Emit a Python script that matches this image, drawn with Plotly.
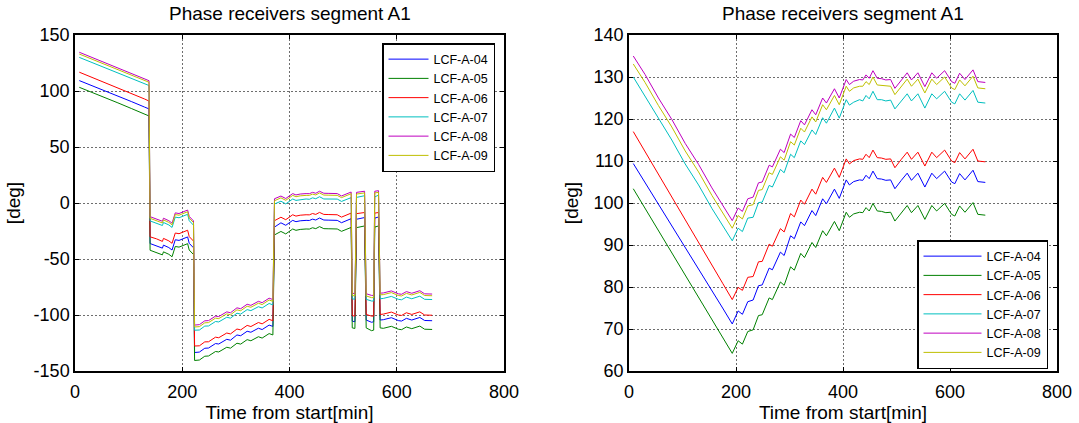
import plotly.graph_objects as go

# ---------------------------------------------------------------------------
# Receiver names and line colours (MATLAB default line order)
# ---------------------------------------------------------------------------
receivers = ["LCF-A-04", "LCF-A-05", "LCF-A-06", "LCF-A-07", "LCF-A-08", "LCF-A-09"]
colors = ["#0000FF", "#008000", "#FF0000", "#00BFBF", "#BF00BF", "#BFBF00"]

# ---------------------------------------------------------------------------
# Left panel: raw phase [deg] versus time from start [min]
# ---------------------------------------------------------------------------
time_raw = [8, 30, 55, 80, 105, 130, 138,
            140, 152, 163, 165, 175, 181, 187, 194, 200, 205, 210, 213, 218, 221,
            223, 232, 242, 249, 262, 268, 283, 290, 302, 309, 321, 328, 342, 349, 362, 369,
            372, 384, 393, 406, 412, 420, 431, 437, 443, 449, 456, 464, 472, 480, 489, 497, 509, 515,
            517, 522,
            525, 531, 540,
            543, 548, 553, 557,
            559, 566,
            569, 575, 590, 603, 609, 618, 628, 643, 652, 666]

raw_a04 = [109.3, 105.2, 100.3, 95.5, 90.6, 85.6, 84.0,
           -36.2, -38.0, -40.3, -37.6, -39.8, -42.0, -32.8, -33.4, -32.4, -31.0, -30.3, -36.0, -39.0, -40.0,
           -133.5, -133.1, -129.7, -129.5, -125.5, -125.9, -121.7, -122.5, -117.8, -118.5, -114.5, -115.4, -111.8, -113.0, -109.0, -110.2,
           -21.5, -17.7, -19.9, -15.5, -16.7, -15.9, -15.5, -15.6, -14.4, -15.2, -13.4, -15.2, -15.3, -15.6, -15.5, -17.6, -15.6, -14.0,
           -105.5, -106.0,
           -14.5, -14.0, -13.0,
           -104.5, -105.5, -106.5, -106.0,
           -13.5, -12.5,
           -104.5, -104.2, -102.4, -105.0, -105.4, -103.0, -104.5, -102.2, -104.9, -105.1]

raw_a05 = [103.3, 99.2, 94.2, 89.4, 84.4, 79.4, 77.7,
           -42.2, -44.0, -46.3, -43.6, -45.8, -48.0, -38.8, -39.4, -38.4, -37.0, -36.3, -42.0, -45.0, -46.0,
           -140.6, -140.2, -136.8, -136.6, -132.6, -133.0, -128.8, -129.6, -125.2, -126.0, -122.0, -123.0, -119.4, -120.6, -116.6, -117.8,
           -28.5, -25.4, -27.6, -23.2, -24.4, -23.6, -23.2, -23.3, -22.1, -22.9, -21.1, -22.9, -23.0, -23.3, -23.2, -25.3, -23.3, -21.8,
           -111.5, -112.0,
           -22.0, -21.5, -20.5,
           -111.5, -113.0, -114.0, -113.5,
           -21.5, -20.5,
           -111.5, -111.9, -110.1, -112.7, -113.1, -110.7, -112.2, -109.9, -112.7, -112.9]

raw_a06 = [116.8, 112.6, 107.6, 102.8, 97.9, 92.8, 91.0,
           -30.2, -32.0, -34.3, -31.6, -33.8, -36.0, -26.8, -27.4, -26.4, -25.0, -24.3, -30.0, -33.0, -34.0,
           -127.7, -127.5, -124.0, -123.9, -119.8, -120.3, -116.1, -116.9, -112.5, -113.3, -109.3, -110.3, -106.7, -107.9, -103.9, -105.1,
           -15.8, -12.7, -14.9, -10.5, -11.7, -10.9, -10.5, -10.6, -9.4, -10.2, -8.4, -10.2, -10.3, -10.6, -10.5, -12.6, -10.6, -9.0,
           -100.5, -101.0,
           -9.5, -9.0, -8.5,
           -99.5, -100.5, -101.0, -101.0,
           -9.0, -8.5,
           -99.5, -99.2, -97.4, -100.0, -100.4, -98.0, -99.5, -97.2, -100.0, -100.2]

raw_a07 = [130.0, 125.7, 120.9, 116.1, 111.2, 106.4, 104.9,
           -16.0, -17.8, -20.1, -17.4, -19.6, -21.8, -12.6, -13.2, -12.2, -10.8, -10.1, -15.8, -18.8, -19.8,
           -113.6, -113.4, -109.9, -109.8, -105.8, -106.2, -102.0, -102.8, -98.4, -99.2, -95.2, -96.1, -92.6, -93.7, -89.7, -91.0,
           -0.9, 1.6, -0.8, 3.6, 2.3, 3.0, 3.6, 3.3, 4.6, 3.8, 5.6, 3.6, 3.6, 3.3, 3.5, 1.4, 3.3, 4.8,
           -85.5, -86.0,
           5.0, 5.5, 6.5,
           -86.0, -87.0, -87.5, -87.5,
           5.5, 7.0,
           -85.5, -85.2, -83.4, -86.0, -86.4, -84.0, -85.5, -83.2, -86.0, -86.2]

raw_a08 = [134.6, 130.3, 125.5, 120.6, 115.8, 110.8, 109.2,
           -12.2, -14.0, -16.3, -13.6, -15.8, -18.0, -8.8, -9.4, -8.4, -7.0, -6.3, -12.0, -15.0, -16.0,
           -109.0, -108.6, -105.2, -105.0, -101.0, -101.4, -97.2, -98.0, -93.6, -94.4, -90.4, -91.4, -87.8, -89.0, -85.0, -86.2,
           3.8, 6.2, 4.0, 8.4, 7.2, 8.0, 8.4, 8.3, 9.5, 8.7, 10.5, 8.7, 8.6, 8.3, 8.4, 6.3, 8.3, 9.8,
           -80.5, -81.0,
           9.5, 10.0, 10.5,
           -81.0, -82.0, -82.5, -82.5,
           10.5, 11.0,
           -80.5, -80.3, -78.5, -81.1, -81.5, -79.1, -80.6, -78.3, -81.1, -81.3]

raw_a09 = [133.0, 128.8, 124.0, 119.1, 114.3, 109.3, 107.8,
           -13.7, -15.5, -17.8, -15.1, -17.3, -19.5, -10.3, -10.9, -9.9, -8.5, -7.8, -13.5, -16.5, -17.5,
           -110.7, -110.4, -107.0, -106.8, -102.8, -103.2, -99.0, -99.8, -95.4, -96.2, -92.2, -93.1, -89.5, -90.7, -86.6, -87.8,
           2.0, 4.6, 2.4, 6.8, 5.6, 6.4, 6.8, 6.8, 7.9, 7.2, 9.0, 7.1, 7.0, 6.8, 6.8, 4.8, 6.8, 8.3,
           -82.5, -83.0,
           8.0, 8.5, 9.0,
           -83.0, -84.0, -84.5, -84.5,
           9.0, 9.5,
           -82.0, -81.8, -80.0, -82.6, -83.0, -80.7, -82.1, -79.8, -82.6, -82.8]

# ---------------------------------------------------------------------------
# Right panel: unwrapped phase [deg] versus time from start [min]
# ---------------------------------------------------------------------------
time_unw = [8, 30, 55, 80, 105, 130, 155, 175, 193,
            204, 212, 222, 232, 242, 249, 262, 268, 283, 290, 302, 309,
            321, 328, 342, 349, 362, 369, 384, 393, 406, 412, 420, 431,
            437, 443, 449, 456, 464, 472, 480, 489, 497, 509, 520, 528,
            540, 553, 566, 575, 590, 603, 609, 618, 628, 643, 652, 666]

unw_a04 = [109.4, 104.9, 99.7, 94.5, 89.4, 84.2, 79.1, 75.0, 71.2,
           74.3, 73.5, 76.5, 76.9, 80.3, 80.5, 84.5, 84.1, 88.3, 87.5, 92.2, 91.5,
           95.5, 94.6, 98.2, 97.0, 101.0, 99.8, 103.3, 101.1, 105.5, 104.3, 105.1, 105.5,
           105.4, 106.6, 105.8, 107.6, 105.8, 105.7, 105.4, 105.5, 103.4, 105.4, 107.1, 105.4,
           107.1, 103.8, 107.1, 105.8, 107.6, 105.0, 104.6, 107.0, 105.5, 107.8, 105.1, 104.9]

unw_a05 = [103.4, 98.7, 93.4, 88.1, 82.8, 77.5, 72.2, 68.0, 64.2,
           67.2, 66.4, 69.4, 69.8, 73.2, 73.4, 77.4, 77.0, 81.2, 80.4, 84.8, 84.0,
           88.0, 87.0, 90.6, 89.4, 93.4, 92.2, 95.6, 93.4, 97.8, 96.6, 97.4, 97.8,
           97.7, 98.9, 98.1, 99.9, 98.1, 98.0, 97.7, 97.8, 95.7, 97.7, 99.4, 97.7,
           99.4, 96.1, 99.4, 98.1, 99.9, 97.3, 96.9, 99.3, 97.8, 100.1, 97.3, 97.1]

unw_a06 = [117.0, 112.2, 106.8, 101.4, 96.0, 90.6, 85.2, 80.9, 77.0,
           79.9, 79.2, 82.3, 82.5, 86.0, 86.1, 90.2, 89.7, 93.9, 93.1, 97.5, 96.7,
           100.7, 99.7, 103.3, 102.1, 106.1, 104.9, 108.3, 106.1, 110.5, 109.3, 110.1, 110.5,
           110.4, 111.6, 110.8, 112.6, 110.8, 110.7, 110.4, 110.5, 108.4, 110.4, 112.1, 110.4,
           112.1, 108.8, 112.1, 110.8, 112.6, 110.0, 109.6, 112.0, 110.5, 112.8, 110.0, 109.8]

unw_a07 = [130.0, 125.5, 120.1, 115.0, 109.3, 104.3, 98.7, 94.8, 91.0,
           94.0, 93.2, 96.4, 96.6, 100.1, 100.2, 104.2, 103.8, 108.0, 107.2, 111.6, 110.8,
           114.8, 113.9, 117.4, 116.3, 120.3, 119.0, 122.6, 120.2, 124.6, 123.3, 124.0, 124.6,
           124.3, 125.6, 124.8, 126.6, 124.6, 124.6, 124.3, 124.5, 122.4, 124.3, 126.0, 124.3,
           126.0, 122.6, 126.0, 124.8, 126.6, 124.0, 123.6, 126.0, 124.5, 126.8, 124.0, 123.8]

unw_a08 = [135.0, 130.6, 125.0, 119.9, 114.2, 109.2, 103.6, 99.6, 95.8,
           98.8, 98.0, 101.0, 101.4, 104.8, 105.0, 109.0, 108.6, 112.8, 112.0, 116.4, 115.6,
           119.6, 118.6, 122.2, 121.0, 125.0, 123.8, 127.2, 125.0, 129.4, 128.2, 129.0, 129.4,
           129.3, 130.5, 129.7, 131.5, 129.7, 129.6, 129.3, 129.4, 127.3, 129.3, 131.0, 129.3,
           131.0, 127.7, 131.0, 129.7, 131.5, 128.9, 128.5, 130.9, 129.4, 131.7, 128.9, 128.7]

unw_a09 = [133.1, 128.7, 123.2, 118.1, 112.4, 107.4, 101.8, 97.8, 94.0,
           97.0, 96.2, 99.3, 99.6, 103.0, 103.2, 107.2, 106.8, 111.0, 110.2, 114.6, 113.8,
           117.8, 116.9, 120.5, 119.3, 123.4, 122.2, 125.6, 123.4, 127.8, 126.6, 127.4, 127.8,
           127.8, 128.9, 128.2, 130.0, 128.1, 128.0, 127.8, 127.8, 125.8, 127.8, 129.5, 127.8,
           129.5, 126.2, 129.5, 128.2, 130.0, 127.4, 127.0, 129.3, 127.9, 130.2, 127.4, 127.2]

raw_series = [raw_a04, raw_a05, raw_a06, raw_a07, raw_a08, raw_a09]
unw_series = [unw_a04, unw_a05, unw_a06, unw_a07, unw_a08, unw_a09]

# tick positions and their printed labels (ASCII hyphen for negatives)
x_ticks = [0, 200, 400, 600, 800]
raw_ticks = [-150, -100, -50, 0, 50, 100, 150]
raw_tick_text = ["-150", "-100", "-50", "0", "50", "100", "150"]
unw_ticks = [60, 70, 80, 90, 100, 110, 120, 130, 140]

title_text = "Phase receivers segment A1"
x_title = "Time from start[min]"
y_title = "[deg]"

FONT = "Liberation Sans, Arial, sans-serif"
W, H = 1079, 423

fig = go.Figure()

for name, col, ys in zip(receivers, colors, raw_series):
    fig.add_trace(go.Scatter(x=time_raw, y=ys, mode="lines", name=name,
                             line=dict(color=col, width=1),
                             xaxis="x", yaxis="y", legend="legend"))

for name, col, ys in zip(receivers, colors, unw_series):
    fig.add_trace(go.Scatter(x=time_unw, y=ys, mode="lines", name=name,
                             line=dict(color=col, width=1),
                             xaxis="x2", yaxis="y2", legend="legend2"))

# axis frames in pixels
L1, R1 = 75, 504
L2, R2 = 629, 1057
TOP, BOT = 35, 371

common_axis = dict(
    automargin=False,
    showline=True, linecolor="black", linewidth=1.5, mirror="ticks",
    ticks="inside", ticklen=4, tickcolor="black",
    showgrid=True, gridcolor="#6e6e6e", griddash="2px,2px", gridwidth=1,
    zeroline=False,
    tickfont=dict(family=FONT, size=18, color="black"),
    title_font=dict(family=FONT, size=19, color="black"),
)

ydom = [(H - BOT) / H, (H - TOP) / H]

legend_common = dict(bgcolor="white", bordercolor="black", borderwidth=1.5,
                     font=dict(family=FONT, size=12.5, color="black"),
                     tracegroupgap=0)

fig.update_layout(
    template="none",
    width=W, height=H,
    margin=dict(l=0, r=0, t=0, b=0, pad=0),
    paper_bgcolor="white", plot_bgcolor="white",
    font=dict(family=FONT, color="black"),
    showlegend=True,
    xaxis=dict(domain=[L1 / W, R1 / W], range=[0, 800], tickvals=x_ticks,
               anchor="y", ticklabelstandoff=4,
               title=dict(text=x_title, standoff=2), **common_axis),
    yaxis=dict(domain=ydom, range=[-150, 150], tickvals=raw_ticks, ticktext=raw_tick_text,
               anchor="x", title=dict(text=y_title, standoff=8), **common_axis),
    xaxis2=dict(domain=[L2 / W, R2 / W], range=[0, 800], tickvals=x_ticks,
                anchor="y2", ticklabelstandoff=4,
                title=dict(text=x_title, standoff=2), **common_axis),
    yaxis2=dict(domain=ydom, range=[60, 140], tickvals=unw_ticks,
                anchor="x2", title=dict(text=y_title, standoff=10), **common_axis),
    legend=dict(x=495 / W, y=(H - 43) / H, xanchor="right", yanchor="top",
                itemwidth=40, **legend_common),
    legend2=dict(x=1048 / W, y=(H - 369) / H, xanchor="right", yanchor="bottom",
                 itemwidth=58, **legend_common),
    annotations=[
        dict(text=title_text, xref="paper", yref="paper", x=(L1 + R1) / 2 / W, y=1 - 13 / H,
             xanchor="center", yanchor="middle", showarrow=False,
             font=dict(family=FONT, size=19, color="black")),
        dict(text=title_text, xref="paper", yref="paper", x=(L2 + R2) / 2 / W, y=1 - 13 / H,
             xanchor="center", yanchor="middle", showarrow=False,
             font=dict(family=FONT, size=19, color="black")),
    ],
)

fig.write_html("out.html")
